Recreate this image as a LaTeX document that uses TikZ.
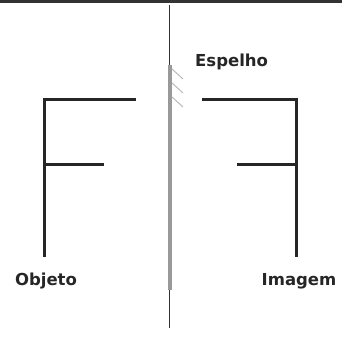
\documentclass[tikz,border=0pt]{standalone}
\usepackage{fontspec}
\setmainfont{DejaVu Sans}
\begin{document}
\begin{tikzpicture}[x=1pt,y=-1pt,
  fline/.style={line width=3pt,black!85,line cap=butt},
  lbl/.style={font=\fontsize{16.5}{19}\selectfont\bfseries,text=black!85,inner sep=0pt}]
\useasboundingbox (0,0) rectangle (342,338);
\fill[black!80] (0,0) rectangle (342,2.5);
% mirror
\draw[line width=1.5pt,black!80] (169.5,5) -- (169.5,328);
\draw[line width=4pt,gray!80] (169.5,65) -- (169.5,290);
\foreach \yy in {69,83,97}
  \draw[line width=1pt,gray!55] (172,\yy) -- (183,\yy+10);
% object F
\draw[fline] (136,99) -- (44,99) -- (44,257);
\draw[fline] (44,164) -- (104,164);
% image F
\draw[fline] (202,99) -- (296,99) -- (296,257);
\draw[fline] (296,164) -- (237,164);
% labels
\node[lbl,anchor=base west] (esp) at (195,66) {Espelho};
\node[lbl,anchor=base] (obj) at (46,285) {Objeto};
\node[lbl,anchor=base] (img) at (299,285) {Imagem};
\end{tikzpicture}
\end{document}
